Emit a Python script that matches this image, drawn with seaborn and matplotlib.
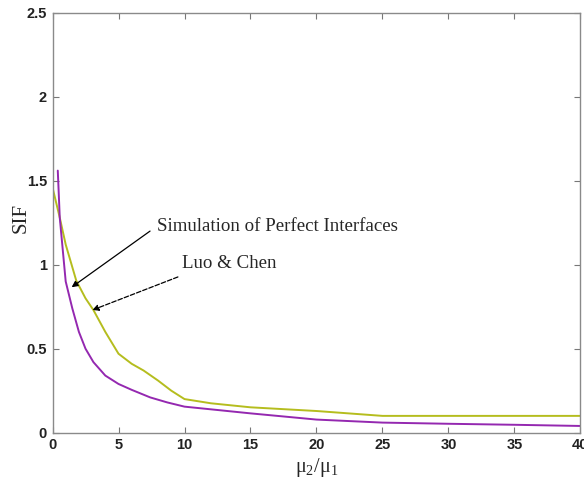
import matplotlib
matplotlib.use("Agg")
import matplotlib.pyplot as plt
import seaborn as sns
import pandas as pd

# Simulation of perfect interfaces
sim_ratio = [0.4, 0.55, 1.0, 1.5, 2.0, 2.5, 3.1, 4.0, 5.0, 6.0, 7.4, 8.7, 10.0, 12.5, 15.0, 20.0, 25.0, 30.0, 35.0, 40.0]
sim_sif = [1.56, 1.28, 0.90, 0.74, 0.60, 0.50, 0.42, 0.34, 0.29, 0.255, 0.21, 0.18, 0.155, 0.135, 0.115, 0.078, 0.06, 0.053, 0.047, 0.04]

# Luo & Chen
luo_ratio = [0.0, 0.55, 1.0, 1.8, 2.5, 3.1, 4.0, 5.0, 6.0, 6.9, 8.0, 9.0, 10.0, 12.0, 15.0, 20.0, 25.0, 30.0, 35.0, 40.0]
luo_sif = [1.46, 1.28, 1.12, 0.905, 0.80, 0.73, 0.60, 0.47, 0.41, 0.37, 0.31, 0.25, 0.20, 0.175, 0.151, 0.129, 0.10, 0.10, 0.10, 0.10]

x_ticks = [0, 5, 10, 15, 20, 25, 30, 35, 40]
y_ticks = [0, 0.5, 1, 1.5, 2, 2.5]
y_tick_labels = ["0", "0.5", "1", "1.5", "2", "2.5"]

sns.set_style("white")

df_sim = pd.DataFrame({"ratio": sim_ratio, "sif": sim_sif})
df_luo = pd.DataFrame({"ratio": luo_ratio, "sif": luo_sif})

fig = plt.figure(figsize=(5.84, 4.79), dpi=100)
ax = fig.add_axes([0.0899, 0.0967, 0.9041, 0.8768])

sns.lineplot(data=df_luo, x="ratio", y="sif", ax=ax, color="#b5bd1e", linewidth=1.4, sort=False)
sns.lineplot(data=df_sim, x="ratio", y="sif", ax=ax, color="#9428b0", linewidth=1.4, sort=False)

ax.set_xlim(0, 40)
ax.set_ylim(0, 2.5)
ax.set_xticks(x_ticks)
ax.set_yticks(y_ticks)
ax.set_xticklabels([str(t) for t in x_ticks])
ax.set_yticklabels(y_tick_labels)

for lab in ax.get_xticklabels() + ax.get_yticklabels():
    lab.set_family(["Liberation Sans", "DejaVu Sans"])
    lab.set_fontweight("bold")
    lab.set_fontsize(10.5)
    lab.set_color("#222222")

ax.tick_params(direction="in", length=4, width=0.8, color="#777777",
               top=True, right=True, bottom=True, left=True, pad=4)
for s in ax.spines.values():
    s.set_visible(True)
    s.set_color("#8a8a8a")
    s.set_linewidth(1.0)

serif = ["Liberation Serif", "DejaVu Serif"]
ax.set_ylabel("SIF", family=serif, fontsize=15)
ax.yaxis.set_label_coords(-0.042, 0.511)
ax.set_xlabel(r"$\mathregular{\mu_2/\mu_1}$", family=serif, fontsize=14.5, labelpad=3)

# curve labels with pointer arrows
ax.text(7.94, 1.226, "Simulation of Perfect Interfaces", family=serif, fontsize=13.6,
        va="center", ha="left")
ax.annotate("", xy=(1.45, 0.866), xytext=(7.39, 1.20),
            arrowprops=dict(arrowstyle="-|>", color="black", lw=0.9,
                            shrinkA=0, shrinkB=0, mutation_scale=9))
ax.text(9.79, 1.008, "Luo & Chen", family=serif, fontsize=13.6,
        va="center", ha="left")
ax.annotate("", xy=(3.02, 0.73), xytext=(9.5, 0.927),
            arrowprops=dict(arrowstyle="-|>", color="black", lw=0.9, linestyle="--",
                            shrinkA=0, shrinkB=0, mutation_scale=9))

fig.savefig("out.png", dpi=100)
